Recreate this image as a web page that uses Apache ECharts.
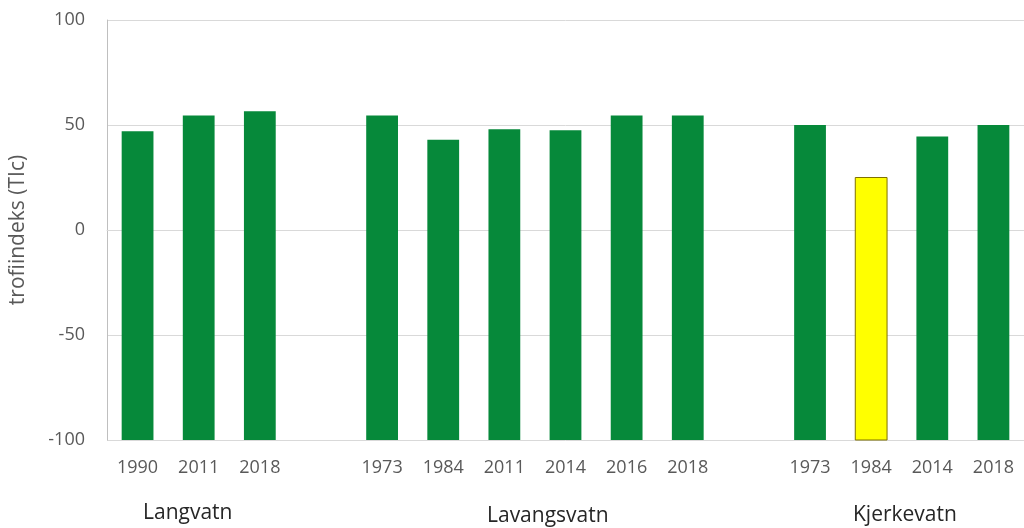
<!DOCTYPE html>
<html>
<head>
<meta charset="utf-8">
<script src="https://cdn.jsdelivr.net/npm/echarts@6/dist/echarts.min.js"></script>
<style>
html,body{margin:0;padding:0;background:#fff;}
#chart{width:1024px;height:528px;}
</style>
</head>
<body>
<div id="chart"></div>
<script>
// Categories (empty strings are spacer slots between lakes)
const categories = ['1990','2011','2018','', '1973','1984','2011','2014','2016','2018','', '1973','1984','2014','2018'];
// Trophic index values (null in spacer slots)
const values = [47, 54.5, 56.5, null, 54.5, 43, 48, 47.5, 54.5, 54.5, null, 50, 25, 44.5, 50];
// Status per bar: 'good' (green) or 'moderate' (yellow)
const status = ['good','good','good',null,'good','good','good','good','good','good',null,'good','moderate','good','good'];
// Lake group labels
const groups = ['Langvatn', 'Lavangsvatn', 'Kjerkevatn'];
const yTicks = [-100, -50, 0, 50, 100];
const yName = 'trofiindeks (TIc)';

const colors = { good: '#06893a', moderate: '#ffff00' };
const borders = { good: '#06893a', moderate: '#7f7000' };

const chart = echarts.init(document.getElementById('chart'));
const font = '"Open Sans", sans-serif';
const yMin = yTicks[0];

chart.setOption({
  animation: false,
  grid: { left: 104, top: 20, width: 925, height: 420, containLabel: false },
  xAxis: {
    type: 'category',
    data: categories,
    axisLine: { show: true, lineStyle: { color: '#d9d9d9', width: 1 } },
    axisTick: { show: false },
    axisLabel: { color: '#595959', fontSize: 18, fontFamily: font, margin: 19, interval: 0 }
  },
  yAxis: {
    type: 'value',
    min: yMin,
    max: yTicks[yTicks.length - 1],
    interval: 50,
    name: yName,
    nameLocation: 'middle',
    nameGap: 78,
    nameTextStyle: { color: '#595959', fontSize: 21, fontFamily: font },
    axisLine: { show: true, lineStyle: { color: '#bfbfbf', width: 1 } },
    axisTick: { show: false },
    splitLine: { lineStyle: { color: '#d9d9d9', width: 1 } },
    axisLabel: { color: '#595959', fontSize: 18, fontFamily: font, margin: 22 }
  },
  series: [{
    type: 'custom',
    data: values.map((v, i) => [i, v === null ? '-' : v]),
    encode: { x: 0, y: 1 },
    renderItem: function (params, api) {
      const v = api.value(1);
      if (isNaN(v)) return null;
      const idx = api.value(0);
      const top = api.coord([idx, v]);
      const base = api.coord([idx, yMin]);
      const bw = api.size([1, 0])[0] * 0.52;
      const st = status[params.dataIndex];
      return {
        type: 'rect',
        shape: { x: top[0] - bw / 2, y: top[1], width: bw, height: base[1] - top[1] },
        style: { fill: colors[st], stroke: st === 'moderate' ? borders[st] : null, lineWidth: 1 }
      };
    }
  }],
  graphic: [
    { type: 'text', left: 143, top: 503, style: { text: groups[0], fontSize: 21, fontFamily: font, fill: '#262626' } },
    { type: 'text', left: 487, top: 506, style: { text: groups[1], fontSize: 21, fontFamily: font, fill: '#262626' } },
    { type: 'text', left: 853, top: 505, style: { text: groups[2], fontSize: 21, fontFamily: font, fill: '#262626' } }
  ]
});
</script>
</body>
</html>
